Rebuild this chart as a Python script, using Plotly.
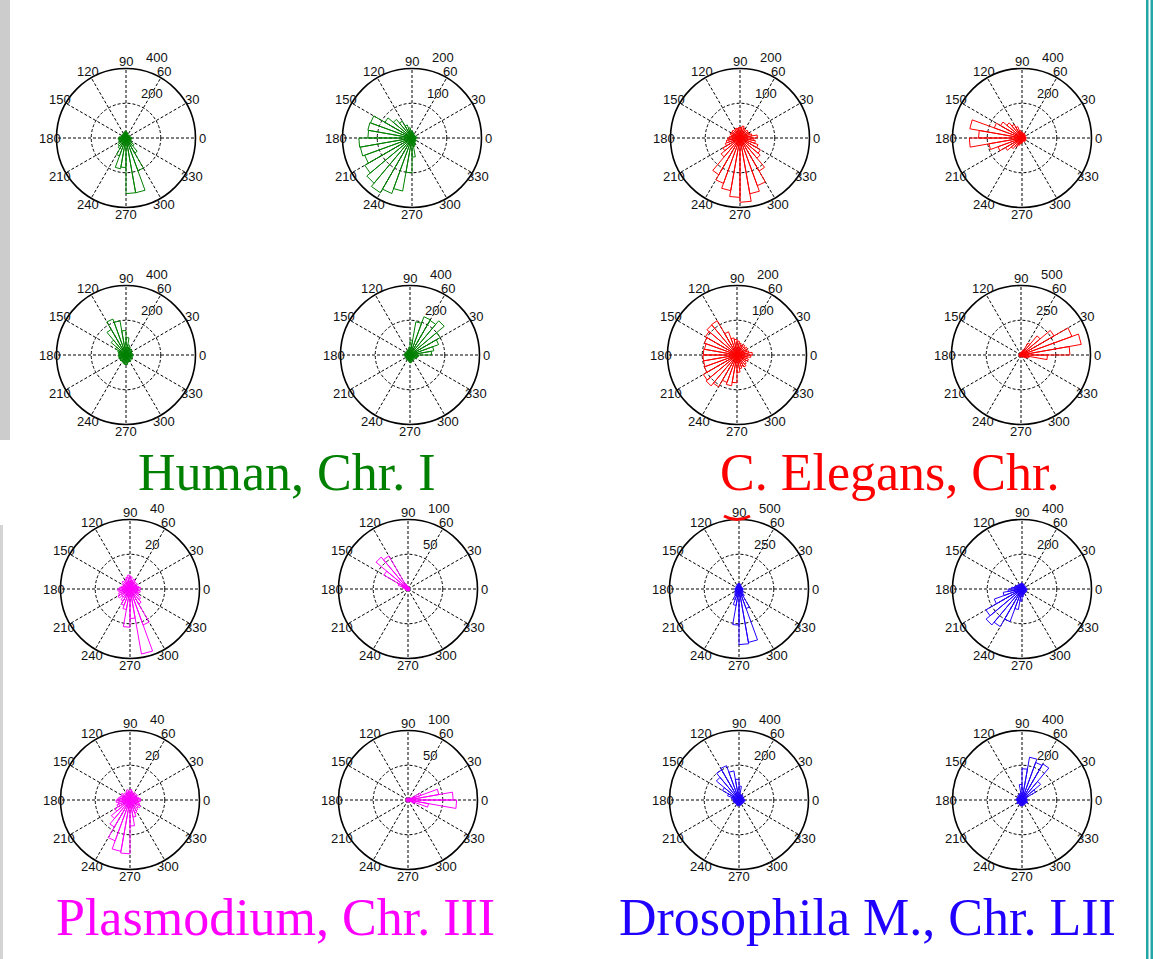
import math
import plotly.graph_objects as go

W, H = 1173, 959

# Rose-histogram bin starts (degrees), 36 bins of 10 degrees
bin_start = list(range(0, 360, 10))
bin_width = 10

# Spoke / angle labels (degrees)
angle_ticks = list(range(0, 360, 30))

# Counts per bin for each panel (bin 0-10 first)
human_a = [30, 25, 20, 25, 20, 20, 25, 30, 35, 40, 35, 30, 30, 25, 30, 25, 30, 40,
           45, 40, 45, 50, 60, 70, 110, 180, 170, 320, 320, 200, 100, 60, 40, 30, 25, 35]
human_b = [15, 12, 10, 10, 12, 10, 12, 15, 18, 20, 30, 40, 56, 70, 90, 127, 129, 127,
           153, 151, 145, 157, 170, 182, 170, 155, 100, 55, 25, 20, 15, 12, 15, 12, 10, 12]
human_c = [40, 35, 35, 40, 45, 40, 50, 60, 100, 141, 200, 220, 170, 112, 70, 50, 45, 40,
           45, 40, 45, 40, 45, 40, 45, 50, 55, 55, 45, 40, 45, 40, 35, 40, 35, 40]
human_d = [124, 139, 175, 200, 257, 230, 234, 194, 86, 45, 35, 30, 30, 25, 30, 25, 30, 35,
           30, 30, 25, 30, 30, 35, 30, 35, 40, 45, 40, 35, 30, 35, 30, 40, 45, 50]

elegans_a = [50, 35, 30, 28, 30, 25, 30, 35, 30, 30, 28, 30, 25, 30, 28, 30, 25, 30,
             35, 40, 45, 57, 71, 122, 139, 154, 171, 185, 163, 146, 110, 76, 68, 55, 45, 40]
elegans_b = [25, 20, 20, 25, 20, 25, 30, 25, 30, 35, 45, 70, 90, 114, 143, 170, 305, 250,
             303, 193, 147, 110, 80, 60, 45, 35, 30, 25, 20, 20, 25, 20, 25, 20, 25, 20]
elegans_c = [44, 35, 30, 35, 30, 35, 30, 35, 40, 45, 50, 71, 114, 113, 105, 100, 95, 97,
             98, 98, 100, 112, 116, 106, 84, 90, 80, 50, 40, 35, 40, 35, 30, 35, 30, 40]
elegans_d = [352, 440, 390, 275, 180, 100, 40, 25, 20, 15, 15, 12, 15, 12, 15, 12, 15, 15,
             12, 15, 12, 15, 12, 15, 12, 15, 15, 12, 15, 12, 15, 20, 30, 45, 60, 190]

plasmo_a = [6, 5, 4, 5, 4, 5, 6, 5, 7, 8, 7, 6, 5, 6, 5, 4, 5, 6,
            7, 6, 7, 8, 6, 8, 10, 12, 22, 17, 38, 22, 10, 8, 6, 5, 6, 5]
plasmo_b = [3, 2, 2, 3, 2, 2, 3, 2, 3, 4, 5, 8, 55, 60, 40, 15, 8, 5,
            4, 3, 3, 2, 3, 2, 3, 2, 3, 2, 3, 2, 3, 2, 3, 2, 3, 2]
plasmo_c = [6, 5, 4, 5, 4, 5, 4, 5, 6, 5, 6, 5, 4, 5, 6, 5, 6, 7,
            8, 7, 8, 10, 14, 18, 25, 30, 31, 15, 10, 8, 7, 6, 7, 6, 5, 6]
plasmo_d = [65, 45, 20, 5, 3, 2, 3, 2, 3, 2, 3, 2, 3, 2, 3, 2, 3, 2,
            3, 2, 3, 2, 3, 2, 3, 2, 3, 2, 3, 2, 3, 2, 4, 10, 30, 70]

droso_a = [30, 25, 20, 25, 20, 25, 30, 35, 40, 40, 35, 30, 25, 30, 25, 20, 25, 30,
           30, 25, 30, 35, 40, 50, 80, 120, 260, 400, 390, 150, 60, 40, 35, 30, 25, 30]
droso_b = [25, 20, 25, 20, 25, 20, 25, 30, 30, 35, 30, 30, 35, 30, 35, 40, 45, 60,
           80, 110, 170, 240, 270, 250, 200, 120, 70, 45, 35, 30, 25, 30, 25, 30, 25, 30]
droso_c = [30, 25, 30, 25, 30, 35, 30, 35, 80, 120, 170, 210, 200, 170, 110, 70, 45, 35,
           30, 35, 30, 25, 30, 25, 30, 35, 30, 35, 30, 25, 30, 25, 30, 25, 30, 35]
droso_d = [30, 25, 30, 90, 140, 240, 230, 250, 180, 90, 40, 35, 30, 35, 30, 25, 30, 35,
           30, 25, 30, 35, 30, 25, 30, 35, 30, 35, 30, 25, 30, 25, 30, 35, 30, 25]

# Radial limits (outer ring value) per panel, row by row
r_limits = [400, 200, 200, 400,
            400, 400, 200, 500,
            40, 100, 500, 400,
            40, 100, 400, 400]

GREEN, RED, MAGENTA, BLUE = "#008000", "#FF0000", "#FF00FF", "#2000FF"

titles = ["Human, Chr. I", "C. Elegans, Chr.", "Plasmodium, Chr. III", "Drosophila M., Chr. LII"]
title_colors = [GREEN, RED, MAGENTA, BLUE]

panel_data = [human_a, human_b, elegans_a, elegans_b,
              human_c, human_d, elegans_c, elegans_d,
              plasmo_a, plasmo_b, droso_a, droso_b,
              plasmo_c, plasmo_d, droso_c, droso_d]
panel_colors = [GREEN, GREEN, RED, RED,
                GREEN, GREEN, RED, RED,
                MAGENTA, MAGENTA, BLUE, BLUE,
                MAGENTA, MAGENTA, BLUE, BLUE]

# Panel centres and radii in pixels
centers = [(126, 138), (412, 138), (740, 138), (1022, 138),
           (126, 355), (410, 355), (737, 355), (1021, 355),
           (130, 589), (408, 589), (739, 589), (1022, 589),
           (130, 800), (408, 800), (739, 800), (1022, 800)]
RADIUS = 69.5

AX_FONT = dict(family="Liberation Sans, Arial, sans-serif", size=13, color="#111111")


def paper(px, py):
    return px / W, 1 - py / H


fig = go.Figure()
annotations = []

for i, (counts, rmax, color, (cx, cy)) in enumerate(zip(panel_data, r_limits, panel_colors, centers)):
    name = "polar" if i == 0 else f"polar{i + 1}"
    theta, rr = [], []
    for a, c in zip(bin_start, counts):
        theta += [a, a, a + bin_width, a + bin_width]
        rr += [0, c, c, 0]
    fig.add_trace(go.Scatterpolar(
        r=rr, theta=theta, mode="lines", subplot=name,
        line=dict(color=color, width=1), hoverinfo="skip", showlegend=False,
    ))
    dom_x = [(cx - RADIUS) / W, (cx + RADIUS) / W]
    dom_y = [1 - (cy + RADIUS) / H, 1 - (cy - RADIUS) / H]
    fig.layout[name] = dict(
        domain=dict(x=dom_x, y=dom_y),
        bgcolor="white",
        angularaxis=dict(
            rotation=0, direction="counterclockwise",
            tickmode="array", tickvals=angle_ticks, showticklabels=False,
            ticks="", showline=True, linecolor="black", linewidth=1.6,
            showgrid=True, gridcolor="black", gridwidth=0.8, griddash="3px,2px",
        ),
        radialaxis=dict(
            range=[0, rmax], tickmode="array", tickvals=[rmax / 2, rmax],
            showticklabels=False, ticks="", showline=False,
            showgrid=True, gridcolor="black", gridwidth=0.8, griddash="3px,2px",
        ),
    )
    # angle labels centred just outside the rim
    for a in angle_ticks:
        lx, ly = paper(cx + 1.1 * RADIUS * math.cos(math.radians(a)),
                       cy - 1.1 * RADIUS * math.sin(math.radians(a)))
        annotations.append(dict(
            x=lx, y=ly, xref="paper", yref="paper", text=str(a), showarrow=False,
            xanchor="center", yanchor="middle", font=AX_FONT, borderpad=0,
        ))
    # radial ring labels placed along the 82 degree direction
    for frac in (0.5, 1.0):
        rp = RADIUS * frac * 1.05
        lx, ly = paper(cx + rp * math.cos(math.radians(82)) + 9,
                       cy - rp * math.sin(math.radians(82)))
        annotations.append(dict(
            x=lx, y=ly, xref="paper", yref="paper",
            text=f"{rmax * frac:g}", showarrow=False, xanchor="left", yanchor="bottom",
            font=AX_FONT, borderpad=0,
        ))

title_pos = [(287, 473), (889, 473), (275, 917), (867, 917)]
for t, c, (tx, ty) in zip(titles, title_colors, title_pos):
    x, y = paper(tx, ty)
    annotations.append(dict(
        x=x, y=y, xref="paper", yref="paper", text=t, showarrow=False,
        xanchor="center", yanchor="middle",
        font=dict(family="Liberation Serif, Times New Roman, serif", size=52, color=c),
    ))

shapes = [
    # slide-frame decorations
    dict(type="rect", xref="paper", yref="paper", x0=0, x1=10 / W, y0=1 - 440 / H, y1=1,
         fillcolor="#CCCCCC", line=dict(width=0), layer="below"),
    dict(type="rect", xref="paper", yref="paper", x0=0, x1=3 / W, y0=0, y1=1 - 525 / H,
         fillcolor="#D4D4D4", line=dict(width=0), layer="below"),
    dict(type="rect", xref="paper", yref="paper", x0=1146 / W, x1=1148.5 / W, y0=0, y1=1,
         fillcolor="#22A6A6", line=dict(width=0)),
    dict(type="rect", xref="paper", yref="paper", x0=1150.5 / W, x1=1153 / W, y0=0, y1=1,
         fillcolor="#22A6A6", line=dict(width=0)),
    # clipped stroke of the heading above
    dict(type="path", xref="paper", yref="paper",
         path=f"M {724 / W} {1 - 516 / H} Q {737 / W} {1 - 523 / H} {750 / W} {1 - 516 / H}",
         line=dict(color=RED, width=3)),
]

fig.update_layout(
    width=W, height=H, margin=dict(l=0, r=0, t=0, b=0),
    paper_bgcolor="white", plot_bgcolor="white",
    showlegend=False, annotations=annotations, shapes=shapes,
)

fig.write_html("out.html")
